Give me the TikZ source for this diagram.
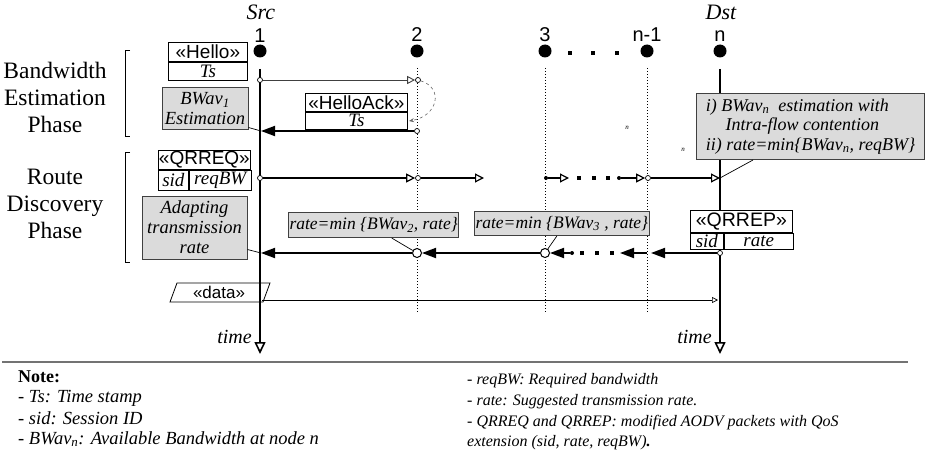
\documentclass[tikz,border=0pt]{standalone}
\usepackage{fontspec}
\setmainfont{Liberation Serif}
\setsansfont{Liberation Sans}
\usetikzlibrary{arrows.meta,calc}
\begin{document}
\begin{tikzpicture}[x=1pt,y=-1pt,
  phase/.style={font=\fontsize{23.5}{27}\selectfont, align=center, inner sep=0pt},
  nlabel/.style={font=\fontsize{20}{22}\selectfont\sffamily, inner sep=0pt},
  rolelabel/.style={font=\fontsize{22}{24}\selectfont\itshape, inner sep=0pt},
  nodedot/.style={circle, fill=black, minimum size=13pt, inner sep=0pt},
  sq/.style={fill=black, minimum size=4.5pt, inner sep=0pt},
  life/.style={line width=1.6pt},
  timearrow/.style={line width=1.6pt, -{Triangle[open, length=12pt, width=11pt]}},
  dottedlife/.style={line width=1pt, dotted},
  pkthead/.style={draw, fill=white, line width=0.8pt, font=\fontsize{19}{20}\selectfont\sffamily, inner sep=0pt, anchor=north west},
  pktfield/.style={draw, fill=white, line width=0.8pt, font=\fontsize{19}{20}\selectfont\itshape, inner sep=0pt, anchor=north west},
  graynote/.style={draw=black!75, line width=1pt, fill=gray!28, font=\fontsize{18.5}{20}\selectfont\itshape, inner sep=1pt, align=center},
  fwd/.style={line width=1.2pt, -{Triangle[open, length=9pt, width=9pt]}},
  hellofwd/.style={line width=0.9pt, black!75, -{Triangle[open, length=8pt, width=8pt]}},
  bwd/.style={line width=1.8pt, -{Triangle[length=14pt, width=10pt]}},
  smallc/.style={circle, draw, fill=white, line width=0.7pt, minimum size=5pt, inner sep=0pt},
  bigc/.style={circle, draw, fill=white, line width=1pt, minimum size=9pt, inner sep=0pt},
  smalldot/.style={circle, fill=black, minimum size=4pt, inner sep=0pt},
  pointer/.style={line width=0.7pt},
  notetext/.style={font=\fontsize{18.5}{20}\selectfont\itshape, anchor=west, inner sep=0pt},
  notetextr/.style={font=\fontsize{16}{18}\selectfont\itshape, anchor=west, inner sep=0pt},
  tinyn/.style={font=\fontsize{7}{8}\selectfont\itshape, inner sep=0pt},
]
\useasboundingbox (0,0) rectangle (932,460);

% ---- phase labels and brackets
\node[phase] (ph1) at (55,97) {Bandwidth\\Estimation\\Phase};
\node[phase] (ph2) at (55,204) {Route\\Discovery\\Phase};
\coordinate (b1a) at (130,50); \coordinate (b1b) at (125,50);
\coordinate (b1c) at (125,136); \coordinate (b1d) at (130,136);
\draw[line width=0.9pt] (b1a) -- (b1b) -- (b1c) -- (b1d);
\coordinate (b2a) at (130,152); \coordinate (b2b) at (125,152);
\coordinate (b2c) at (125,262); \coordinate (b2d) at (130,262);
\draw[line width=0.9pt] (b2a) -- (b2b) -- (b2c) -- (b2d);

% ---- node heads
\node[rolelabel] (src) at (261,12) {Src};
\node[rolelabel] (dst) at (721,12) {Dst};
\node[nlabel] (n1) at (260,36) {1};
\node[nlabel] (n2) at (417,35) {2};
\node[nlabel] (n3) at (545,35) {3};
\node[nlabel] (nn1) at (647,35) {n-1};
\node[nlabel] (nn) at (720,36) {n};
\node[nodedot] (d1) at (260,51) {};
\node[nodedot] (d2) at (417,51) {};
\node[nodedot] (d3) at (545,51) {};
\node[nodedot] (dn1) at (647,51) {};
\node[nodedot] (dn) at (720,51) {};
\node[sq] (s1) at (570,53) {};
\node[sq] (s2) at (593,53) {};
\node[sq] (s3) at (617,53) {};

% ---- lifelines
\coordinate (l1top) at (260,69); \coordinate (l1bot) at (260,354);
\coordinate (lntop) at (720,69); \coordinate (lnbot) at (720,354);
\coordinate (l2top) at (417,68); \coordinate (l2bot) at (417,313);
\coordinate (l3top) at (545,68); \coordinate (l3bot) at (545,313);
\coordinate (ln1top) at (647,68); \coordinate (ln1bot) at (647,313);
\draw[dottedlife] (l2top) -- (l2bot);
\draw[dottedlife] (l3top) -- (l3bot);
\draw[dottedlife] (ln1top) -- (ln1bot);
\draw[timearrow] (l1top) -- (l1bot);
\draw[timearrow] (lntop) -- (lnbot);
\node[font=\fontsize{20}{21}\selectfont\itshape, anchor=east, inner sep=0pt] (t1) at (252,337) {time};
\node[font=\fontsize{20}{21}\selectfont\itshape, anchor=east, inner sep=0pt] (tn) at (712,337) {time};

% ---- Hello exchange
\node[smallc] (h1) at (260,80) {};
\node[smallc] (h2) at (418,80) {};
\draw[hellofwd] (h1) -- (h2);
\node[pkthead, minimum width=79pt, minimum height=19pt] (hello) at (168,42) {«Hello»};
\node[pktfield, minimum width=79pt, minimum height=18pt] (hellots) at (hello.south west) {Ts};
\coordinate (hcurveend) at (409,121);
\draw[dashed, black!60, line width=0.6pt, -{Stealth[length=5pt, width=4pt]}] (h2) .. controls (444,88) and (438,116) .. (hcurveend);
\node[smallc] (a2) at (417,131) {};
\coordinate (a1) at (261,131);
\draw[bwd] (a2) -- (a1);
\node[pkthead, minimum width=102pt, minimum height=18pt] (ack) at (305,93) {«HelloAck»};
\node[pktfield, minimum width=102pt, minimum height=17pt] (ackts) at (ack.south west) {Ts};
\node[graynote, minimum width=86pt, minimum height=41pt] (bwav) at (205,108.5) {BWav\textsubscript{1}\\Estimation};
\draw[pointer] ($(bwav.south east)+(0,-2)$) -- (a1);

% ---- QRREQ
\node[pkthead, minimum width=92pt, minimum height=19pt] (qrreq) at (158,150) {«QRREQ»};
\node[pktfield, minimum width=30pt, minimum height=20pt] (qsid) at (qrreq.south west) {sid};
\node[pktfield, minimum width=62pt, minimum height=20pt] (qbw) at (qsid.north east) {reqBW};
\node[smallc] (q1) at (260,178) {};
\node[smallc] (q2) at (418,178) {};
\coordinate (q2end) at (484,178);
\node[smalldot] (q3) at (546,178) {};
\coordinate (q3end) at (569,178);
\node[sq] (qs1) at (579,178) {};
\node[sq] (qs2) at (594,178) {};
\node[sq] (qs3) at (608,178) {};
\node[smalldot] (q4) at (619,178) {};
\node[smallc] (q5) at (648,178) {};
\coordinate (q6) at (720,178);
\draw[fwd] (q1) -- (q2);
\draw[fwd] (q2) -- (q2end);
\draw[fwd] (q3) -- (q3end);
\draw[fwd] (q4) -- (q5);
\draw[fwd] (q5) -- (q6);

% ---- destination processing
\node[graynote, anchor=north west, align=left, minimum width=228pt, minimum height=66pt, font=\fontsize{18}{19.5}\selectfont\itshape] (dstbox) at (696,93)
  {i) BWav\textsubscript{n}\ \ estimation with\\\hspace*{1.1em}Intra-flow contention\\ii) rate=min\{BWav\textsubscript{n}, reqBW\}};
\draw[pointer] ($(dstbox.south west)+(57,0)$) -- (q6);
\node[tinyn] (tn1) at (627,128) {n};
\node[tinyn] (tn2) at (683,150) {n};

% ---- QRREP
\node[pkthead, minimum width=102pt, minimum height=22pt, font=\fontsize{19.5}{20}\selectfont\sffamily] (qrrep) at (690,210) {«QRREP»};
\node[pktfield, minimum width=33pt, minimum height=16pt] (rsid) at (qrrep.south west) {sid};
\node[pktfield, minimum width=69pt, minimum height=16pt] (rrate) at (rsid.north east) {rate};

% ---- reply path
\node[smallc] (r5) at (720,253) {};
\coordinate (r5end) at (651,253);
\coordinate (r4) at (647,253);
\coordinate (r4end) at (620,253);
\node[sq] (rs1) at (582,253) {};
\node[sq] (rs2) at (597,253) {};
\node[sq] (rs3) at (612,253) {};
\node[smalldot] (r3s) at (572,253) {};
\node[bigc] (c3) at (545,253) {};
\node[bigc] (c2) at (417,253) {};
\coordinate (r1) at (261,253);
\draw[bwd] (r5) -- (r5end);
\draw[bwd] (r4) -- (r4end);
\draw[bwd] (r3s) -- (c3);
\draw[bwd] (c3) -- (c2);
\draw[bwd] (c2) -- (r1);
\node[graynote, minimum width=105pt, minimum height=63pt] (adapt) at (194.5,227.5) {Adapting\\transmission\\rate};
\draw[pointer] ($(adapt.south east)+(0,-10)$) -- (r1);
\node[graynote, anchor=north west, minimum width=168pt, minimum height=25pt, font=\fontsize{17.5}{18}\selectfont\itshape] (rb1) at (288,212) {rate=min \{BWav\textsubscript{2}, rate\}};
\node[graynote, anchor=north west, minimum width=169pt, minimum height=24pt, font=\fontsize{17.5}{18}\selectfont\itshape] (rb2) at (474,211) {rate=min \{BWav\textsubscript{3} , rate\}};
\draw[pointer] ($(rb1.south)+(18,0)$) -- (c2);
\draw[pointer] ($(rb2.south)+(-5,0)$) -- (c3);

% ---- data
\draw[line width=0.8pt] (170,302) -- (177,283) -- (270,283) -- (263,302) -- cycle;
\node[font=\fontsize{17}{18}\selectfont\sffamily, inner sep=0pt] (datalbl) at (219,292.5) {«data»};
\coordinate (ds) at (262,300); \coordinate (de) at (718,300);
\draw[line width=0.7pt, -{Triangle[open, length=6pt, width=6pt]}] (ds) -- (de);

% ---- separator and notes
\coordinate (rulea) at (2,362); \coordinate (ruleb) at (908,362);
\draw[line width=2.2pt, black!55] (rulea) -- (ruleb);
\node[font=\fontsize{18}{20}\selectfont\bfseries, anchor=west, inner sep=0pt] (notehd) at (18,377) {Note:};
\node[notetext] (nt1) at (18,398) {- Ts: Time stamp};
\node[notetext] (nt2) at (18,418) {- sid: Session ID};
\node[notetext] (nt3) at (18,439) {- BWav\textsubscript{n}: Available Bandwidth at node n};
\node[notetextr] (nt4) at (467,381) {- reqBW: Required bandwidth};
\node[notetextr] (nt5) at (467,402) {- rate: Suggested transmission rate.};
\node[notetextr] (nt6) at (467,423) {- QRREQ and QRREP: modified AODV packets with QoS};
\node[notetextr] (nt7) at (467,443) {extension (sid, rate, reqBW)\textbf{.}};
\end{tikzpicture}
\end{document}
